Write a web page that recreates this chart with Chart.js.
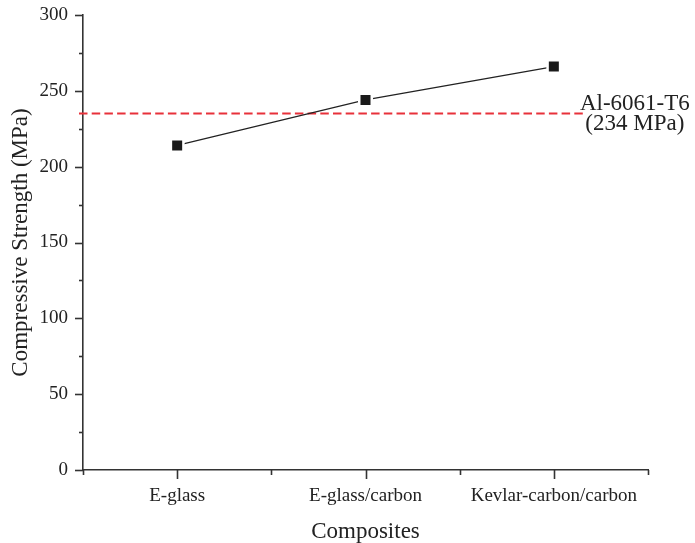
<!DOCTYPE html>
<html>
<head>
<meta charset="utf-8">
<script src="https://cdn.jsdelivr.net/npm/chart.js@4.4.0/dist/chart.umd.min.js"></script>
<style>
  html, body { margin: 0; padding: 0; background: #fff; }
  #wrap { width: 695px; height: 543px; }
</style>
</head>
<body>
<div id="wrap"><canvas id="chart"></canvas></div>
<script>
// data
const categories = ['E-glass', 'E-glass/carbon', 'Kevlar-carbon/carbon'];
const strength = [214, 244, 266];
const yTicks = [0, 50, 100, 150, 200, 250, 300];
const yMinorTicks = [25, 75, 125, 175, 225, 275];
const xMinorTicks = [-0.5, 0.5, 1.5, 2.5];
const refValue = 235;          // Al-6061-T6 reference line
const refEnd = 2.17;           // where the dashed line stops (category units)
const refLabelAt = 2.43;       // label centre (category units)
const refLabel = ['Al-6061-T6', '(234 MPa)'];

const FONT = '"Liberation Serif", "Times New Roman", serif';
const INK = '#222';

// Origin-style outward tick marks, reference line and its label
const extras = {
    id: 'extras',
    beforeDatasetsDraw(chart) {
        const { ctx, chartArea, scales: { x, y } } = chart;
        const yRef = y.getPixelForValue(refValue);
        ctx.save();
        ctx.strokeStyle = '#e8313a';
        ctx.lineWidth = 2;
        ctx.setLineDash([8.5, 4.2]);
        ctx.beginPath();
        ctx.moveTo(chartArea.left - 4, yRef);
        ctx.lineTo(x.getPixelForValue(refEnd), yRef);
        ctx.stroke();
        ctx.restore();
    },
    afterDraw(chart) {
        const { ctx, chartArea, scales: { x, y } } = chart;
        const { left, bottom } = chartArea;
        ctx.save();
        ctx.strokeStyle = '#333';
        ctx.lineWidth = 1.6;
        const seg = (x1, y1, x2, y2) => {
            ctx.beginPath(); ctx.moveTo(x1, y1); ctx.lineTo(x2, y2); ctx.stroke();
        };
        yTicks.forEach(v => { const py = Math.round(y.getPixelForValue(v)) + 0.5; seg(left - 8, py, left, py); });
        yMinorTicks.forEach(v => { const py = Math.round(y.getPixelForValue(v)) + 0.5; seg(left - 4, py, left, py); });
        categories.forEach((c, i) => { const px = Math.round(x.getPixelForValue(i)) + 0.5; seg(px, bottom, px, bottom + 9); });
        xMinorTicks.forEach(v => { const px = Math.round(x.getPixelForValue(v)) + 0.5; seg(px, bottom, px, bottom + 5); });

        // label
        const yRef = y.getPixelForValue(refValue);
        const cx = x.getPixelForValue(refLabelAt);
        ctx.fillStyle = INK;
        ctx.font = '23px ' + FONT;
        ctx.textAlign = 'center';
        ctx.textBaseline = 'alphabetic';
        ctx.fillText(refLabel[0], cx, yRef - 4);
        ctx.fillText(refLabel[1], cx, yRef + 16);
        ctx.restore();
    }
};

new Chart(document.getElementById('chart'), {
    type: 'line',
    data: {
        labels: categories,
        datasets: [{
            label: 'Compressive Strength',
            data: strength,
            borderColor: INK,
            borderWidth: 1.2,
            tension: 0,
            pointStyle: 'rect',
            pointRadius: 8.84,
            pointBorderWidth: 2.5,
            pointBorderColor: '#fff',
            pointBackgroundColor: '#1a1a1a'
        }]
    },
    options: {
        responsive: true,
        maintainAspectRatio: false,
        devicePixelRatio: 1,
        animation: false,
        layout: { padding: { top: 15, right: 47, left: 0, bottom: 0 } },
        plugins: {
            legend: { display: false },
            tooltip: { enabled: false }
        },
        scales: {
            x: {
                type: 'category',
                offset: true,
                grid: { display: false, drawTicks: false },
                border: { display: true, color: '#333', width: 1.6 },
                ticks: { color: INK, padding: 15, font: { family: FONT, size: 19 }, maxRotation: 0 },
                title: {
                    display: true,
                    text: 'Composites',
                    color: INK,
                    font: { family: FONT, size: 23, lineHeight: 1.0 },
                    padding: { top: 0, bottom: 0 }
                },
                afterFit(scale) { scale.height = 73; }
            },
            y: {
                min: 0,
                max: 300,
                grid: { display: false, drawTicks: false },
                border: { display: true, color: '#333', width: 1.6 },
                ticks: { color: INK, padding: 15, font: { family: FONT, size: 19 } },
                afterBuildTicks(scale) { scale.ticks = yTicks.map(v => ({ value: v })); },
                title: {
                    display: true,
                    text: 'Compressive Strength (MPa)',
                    color: INK,
                    font: { family: FONT, size: 23, lineHeight: 1.15 },
                    padding: { top: 8, bottom: 0 }
                },
                afterFit(scale) {
                    scale.width = 83;
                    scale.paddingTop = 0;
                    scale.paddingBottom = 0;
                }
            }
        }
    },
    plugins: [extras]
});
</script>
</body>
</html>
